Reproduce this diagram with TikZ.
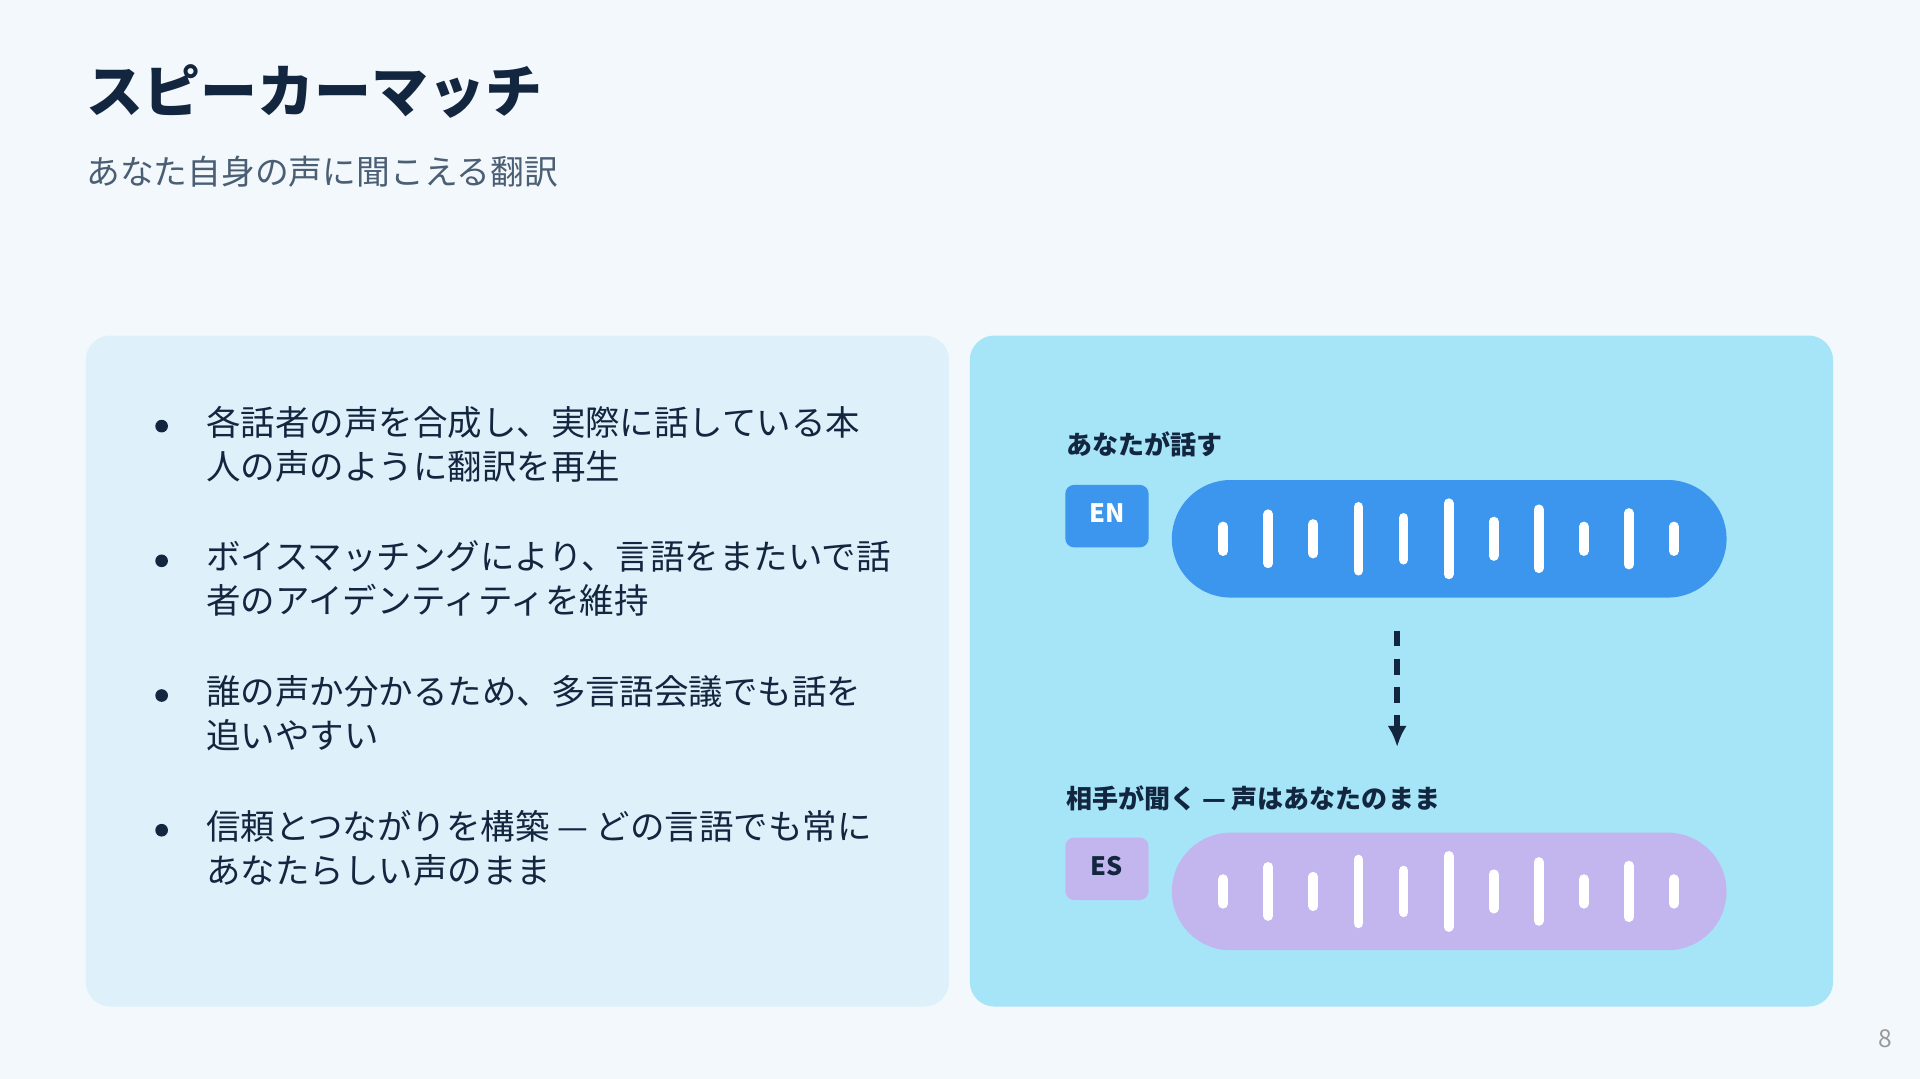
\documentclass[tikz,border=0pt]{standalone}
\usepackage{fontspec}
\setmainfont{Noto Sans CJK JP}
\usetikzlibrary{arrows.meta,positioning}
\definecolor{pagebg}{HTML}{F3F8FC}
\definecolor{navy}{HTML}{13263F}
\definecolor{subgray}{HTML}{4A5E74}
\definecolor{leftbg}{HTML}{DEF0FA}
\definecolor{rightbg}{HTML}{A6E4F8}
\definecolor{enblue}{HTML}{3D96EE}
\definecolor{espurple}{HTML}{C3B6EE}
\tikzset{
  panel/.style={rounded corners=7pt},
  bullet/.style={anchor=north west, align=left, inner sep=0pt, text=navy,
    font=\fontsize{9.8}{12.6}\selectfont},
  dot/.style={circle, fill=navy, inner sep=0pt, minimum size=3.6pt},
  label/.style={anchor=west, inner sep=0pt, text=navy, font=\fontsize{7.4}{9}\selectfont\bfseries},
  badge/.style={rounded corners=2.5pt, inner sep=0pt, font=\fontsize{7.2}{8}\selectfont\bfseries},
  pill/.style={rounded corners=16.7pt},
  bar/.style={white, line width=2.8pt, line cap=round}
}
\begin{document}
\begin{tikzpicture}[x=0.012245cm, y=-0.012245cm]
\fill[pagebg] (0,0) rectangle (1568,881);
\useasboundingbox (0,0) rectangle (1568,881);
% heading
\node[anchor=west, inner sep=0pt, text=navy, font=\fontsize{16.2}{19}\selectfont\bfseries] (title) at (70,75) {スピーカーマッチ};
\node[anchor=west, inner sep=0pt, text=subgray, font=\fontsize{9.6}{11}\selectfont] (subtitle) at (70,140) {あなた自身の声に聞こえる翻訳};
% panels
\fill[panel, leftbg] (70,274) rectangle (775,822);
\fill[panel, rightbg] (792,274) rectangle (1497,822);
% bullet list
\foreach \y/\t [count=\i] in {331/{各話者の声を合成し、実際に話している本\\人の声のように翻訳を再生},
  441/{ボイスマッチングにより、言語をまたいで話\\者のアイデンティティを維持},
  551/{誰の声か分かるため、多言語会議でも話を\\追いやすい},
  661/{信頼とつながりを構築 — どの言語でも常に\\あなたらしい声のまま}}{
  \node[dot] (dot\i) at (132,\y+17) {};
  \node[bullet] (item\i) at (168,\y) {\t};
}
% speaker side
\node[label] (speaks) at (870,363) {あなたが話す};
\node[label] (hears) at (870,652) {相手が聞く — 声はあなたのまま};
\foreach \y/\c/\n/\tc in {440/enblue/EN/white, 728/espurple/ES/navy}{
  \fill[badge, \c] (870,\y-44) rectangle (938,\y+7);
  \node[badge, text=\tc] (badge\n) at (904,\y-21) {\n};
  \fill[pill, \c] (957,\y-48) rectangle (1410,\y+48);
  \foreach \h [count=\k from 0] in {10,20,12,26,17,29,14,24,10,21,10}
    \draw[bar] (999+36.8*\k,\y-\h) -- (999+36.8*\k,\y+\h);
}
\coordinate (wavetop) at (1141,515);
\coordinate (wavebottom) at (1141,610);
\draw[navy, line width=1.6pt, dash pattern=on 4.5pt off 3.5pt, -{Latex[length=6pt,width=5.5pt]}] (wavetop) -- (wavebottom);
% page number
\node[anchor=east, inner sep=0pt, text=gray!80, font=\fontsize{7}{8}\selectfont] (pagenum) at (1546,848) {8};
\end{tikzpicture}
\end{document}
